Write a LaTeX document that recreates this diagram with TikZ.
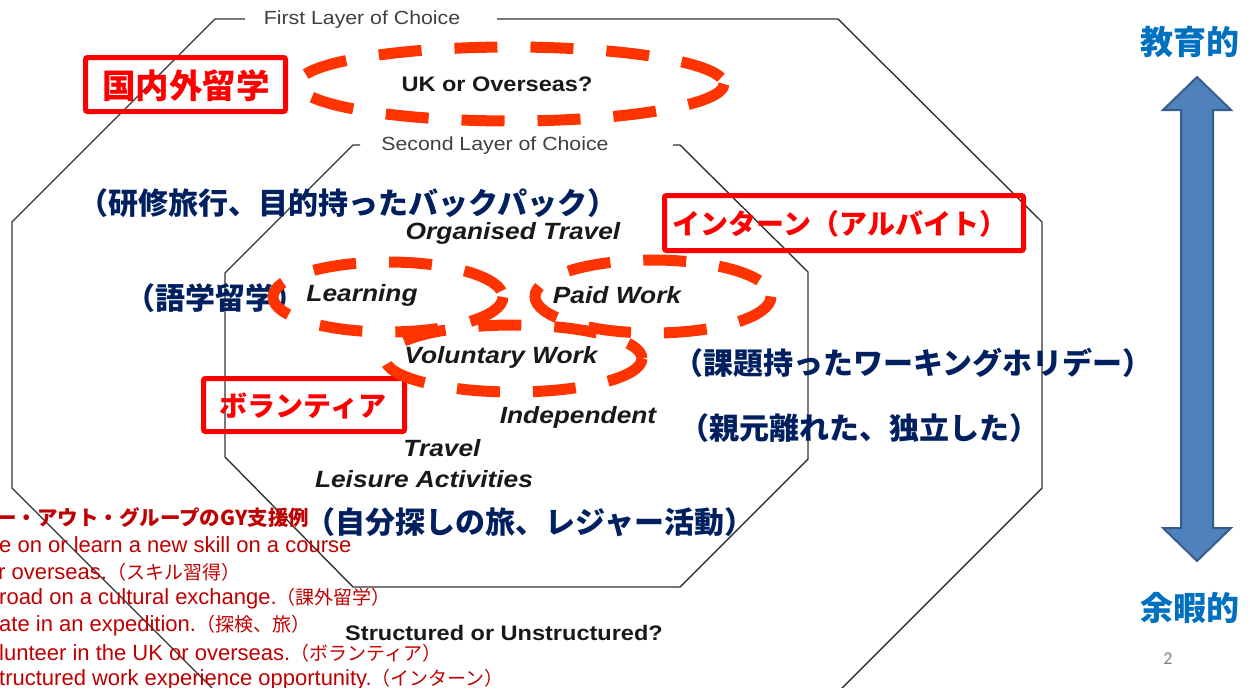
\documentclass[tikz,border=0pt]{standalone}
\usepackage{fontspec}
\usepackage{graphicx}
\setmainfont{Liberation Sans}
\newfontfamily\jp{Noto Sans CJK JP}
\newfontfamily\pgnum{Carlito}
\newcommand\wx[1]{\scalebox{1.12}[1]{#1}}
\newcommand\lj[1]{{\jp\fontsize{19}{22}\selectfont #1}}
\definecolor{navy}{HTML}{002060}
\definecolor{boxred}{HTML}{FF0000}
\definecolor{listred}{HTML}{C00000}
\definecolor{dashred}{HTML}{FF3300}
\definecolor{edublue}{HTML}{0070C0}
\definecolor{arrfill}{HTML}{4F81BD}
\definecolor{arrline}{HTML}{385D8A}
\tikzset{
  octline/.style={draw=black!80, line width=1.4pt, line join=miter},
  layerlbl/.style={inner sep=0pt, text=black!75, font=\fontsize{19}{22}\selectfont},
  qlbl/.style={inner sep=0pt, text=black!90, font=\fontsize{21}{24}\selectfont\bfseries},
  itlbl/.style={inner sep=0pt, text=black!90, font=\fontsize{23.5}{26}\selectfont\bfseries\itshape},
  bluejp/.style={inner sep=0pt, text=navy, font=\jp\fontsize{30}{33}\selectfont\bfseries},
  redbox/.style={draw=boxred, line width=5pt, rounded corners=2pt},
  boxtxt/.style={inner sep=0pt, text=boxred, font=\jp\bfseries},
  dashell/.style={draw=dashred, line width=11pt, dash pattern=on 43pt off 33pt},
  lst/.style={inner sep=0pt, anchor=west, text=listred, font=\fontsize{22}{25}\selectfont},
  sidelbl/.style={inner sep=0pt, text=edublue, font=\jp\fontsize{33}{36}\selectfont\bfseries},
}
\begin{document}
\begin{tikzpicture}[x=1pt,y=-1pt]
\useasboundingbox (0,0) rectangle (1256,688);
\fill[white] (0,0) rectangle (1256,688);
\clip (0,0) rectangle (1256,688);

% outer octagon (first layer)
\draw[octline] (245,19) -- (215,19) -- (12,222) -- (12,488) -- (215,691) -- (839,691) -- (1042,488) -- (1042,222) -- (838,19) -- (497,19);
% inner octagon (second layer)
\draw[octline] (360,145) -- (353,145) -- (225,273) -- (225,457) -- (353,587) -- (680,587) -- (808,459) -- (808,272) -- (680,145) -- (673,145);

\node[layerlbl] (first) at (362,20) {\wx{First Layer of Choice}};
\node[layerlbl] (second) at (495,146) {\wx{Second Layer of Choice}};
\node[qlbl] (uk) at (497,84) {\wx{UK or Overseas?}};
\node[itlbl] (org) at (513,233) {\wx{Organised Travel}};
\node[itlbl] (learn) at (362,295) {\wx{Learning}};
\node[itlbl] (paid) at (617,295) {\wx{Paid Work}};
\node[itlbl] (vol) at (501,357) {\wx{Voluntary Work}};
\node[itlbl] (indep) at (578,417) {\wx{Independent}};
\node[itlbl] (trav) at (442,448) {\wx{Travel}};
\node[itlbl] (leis) at (424,479) {\wx{Leisure Activities}};
\node[qlbl] (struct) at (504,633) {\wx{Structured or Unstructured?}};

% blue Japanese annotations
\node[bluejp] (b1) at (348,203) {（研修旅行、目的持ったバックパック）};
\node[bluejp] (b2) at (215,298) {（語学留学）};
\node[bluejp] (b3) at (913,363) {（課題持ったワーキングホリデー）};
\node[bluejp] (b4) at (859,428) {（親元離れた、独立した）};
\node[bluejp] (b5) at (530,522) {（自分探しの旅、レジャー活動）};

% red boxes
\draw[redbox] (85.5,57.5) rectangle (285.5,111.5);
\node[boxtxt, font=\jp\fontsize{33.5}{36}\selectfont\bfseries] (r1) at (186,86) {国内外留学};
\draw[redbox] (664.5,195.5) rectangle (1023.5,250.5);
\node[boxtxt, font=\jp\fontsize{28}{30}\selectfont\bfseries] (r2) at (840,224) {インターン（アルバイト）};
\draw[redbox] (203.5,378.5) rectangle (404.5,431.5);
\node[boxtxt, font=\jp\fontsize{28}{30}\selectfont\bfseries] (r3) at (303,406) {ボランティア};

% dashed ellipses
\draw[dashell] (511,84) ellipse [x radius=213, y radius=37];
\draw[dashell] (388,297) ellipse [x radius=115, y radius=35];
\draw[dashell] (653,296.5) ellipse [x radius=118, y radius=36.5];
\draw[dashell] (513.5,358.5) ellipse [x radius=128.5, y radius=33.5];

% red list (cut at left edge)
\node[lst, font=\jp\fontsize{20.5}{23}\selectfont\bfseries] (t0) at (-4,518) {ー・アウト・グループのGY支援例};
\node[lst] (t1) at (-1,545) {e on or learn a new skill on a course};
\node[lst] (t2) at (-2,572) {r overseas.\lj{（スキル習得）}};
\node[lst] (t3) at (-1,599) {road on a cultural exchange.\lj{（課外留学）}};
\node[lst] (t4) at (-1,626) {ate in an expedition.\lj{（探検、旅）}};
\node[lst] (t5) at (-1,653) {lunteer in the UK or overseas.\lj{（ボランティア）}};
\node[lst] (t6) at (-1,680) {tructured work experience opportunity.\lj{（インターン）}};

% right side scale
\node[sidelbl] (edu) at (1190,42) {教育的};
\node[sidelbl] (lei) at (1190,608) {余暇的};
\draw[fill=arrfill, draw=arrline, line width=2pt, line join=miter]
  (1197,77) -- (1231,110) -- (1213,110) -- (1213,528) -- (1231,528) -- (1197,561)
  -- (1163,528) -- (1181,528) -- (1181,110) -- (1163,110) -- cycle;
\node[inner sep=0pt, text=black!50, font=\pgnum\fontsize{18}{20}\selectfont] (pg) at (1168,659) {2};
\end{tikzpicture}
\end{document}
